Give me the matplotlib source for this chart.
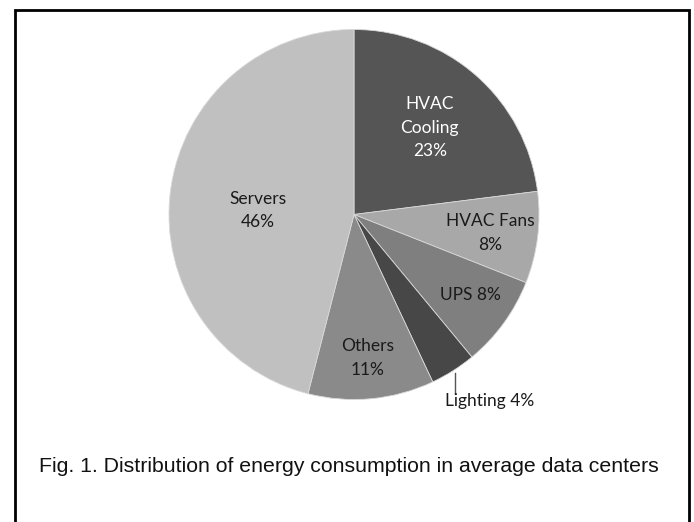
import matplotlib.pyplot as plt
from matplotlib.patches import Rectangle

labels = ["HVAC\nCooling\n23%", "HVAC Fans\n8%", "UPS 8%", "Lighting 4%", "Others\n11%", "Servers\n46%"]
shares = [23, 8, 8, 4, 11, 46]
colors = ["#555555", "#a8a8a8", "#7f7f7f", "#474747", "#8a8a8a", "#c0c0c0"]
text_colors = ["white", "#1a1a1a", "#1a1a1a", "#1a1a1a", "#1a1a1a", "#1a1a1a"]
# where each label sits, in pie units (radius = 1)
label_pos = [(0.41, 0.47), (0.735, -0.10), (0.627, -0.435), (0.735, -1.01), (0.076, -0.776), (-0.52, 0.02)]

fig = plt.figure(figsize=(6.94, 5.22), dpi=100)
fig.patch.set_facecolor("white")

# frame around the whole figure
fig.add_artist(Rectangle((15 / 694, -0.05), (689 - 15) / 694, 1.05 - 10 / 522,
                         transform=fig.transFigure, fill=False, edgecolor="black", linewidth=2))

ax = fig.add_axes([(354 - 185) / 694, (522 - 214.5 - 185) / 522, 370 / 694, 370 / 522])
wedges, _ = ax.pie(shares, colors=colors, startangle=90, counterclock=False,
                   wedgeprops=dict(edgecolor="#d8d8d8", linewidth=0.6))
ax.set_xlim(-1, 1)
ax.set_ylim(-1, 1)

font = ["Lato", "DejaVu Sans"]
for lab, (x, y), c in zip(labels, label_pos, text_colors):
    ax.text(x, y, lab, ha="center", va="center", color=c, fontsize=12.5,
            family=font, linespacing=1.55, clip_on=False)

# leader line for the small Lighting slice
ax.plot([0.546, 0.546], [-0.857, -0.965], color="#555555", linewidth=1, clip_on=False)

fig.text(349 / 694, 1 - 467 / 522, "Fig. 1. Distribution of energy consumption in average data centers",
         ha="center", va="center", fontsize=15.3, family=["Liberation Sans Narrow", "Liberation Sans"], color="#111111")

fig.savefig("out.png", dpi=100)
